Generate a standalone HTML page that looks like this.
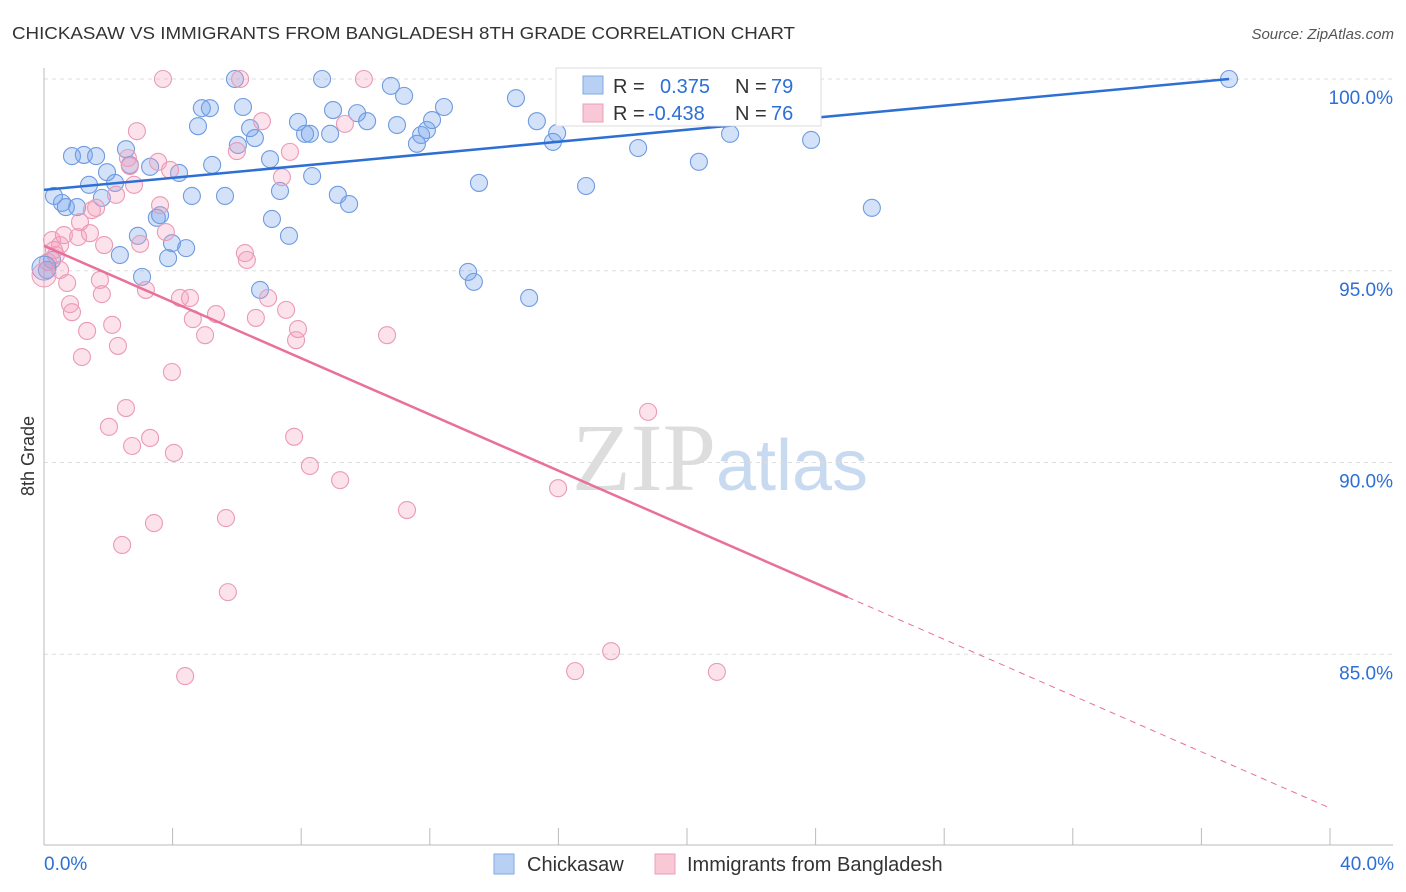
<!DOCTYPE html>
<html><head><meta charset="utf-8"><style>
body{margin:0;background:#fff;font-family:"Liberation Sans",sans-serif}
svg{display:block}
</style></head><body>
<svg id="c" width="1406" height="892">
<text x="12" y="39" font-size="17.5" fill="#333" textLength="783" lengthAdjust="spacingAndGlyphs">CHICKASAW VS IMMIGRANTS FROM BANGLADESH 8TH GRADE CORRELATION CHART</text>
<text x="1394" y="39" font-size="15" fill="#555" font-style="italic" text-anchor="end">Source: ZipAtlas.com</text>
<text x="720" y="490" font-size="96" fill="#ddd" text-anchor="middle" font-family="Liberation Serif">ZIP<tspan fill="#c8daf0" font-family="Liberation Sans" font-size="72">atlas</tspan></text>
<text x="34" y="456" font-size="18" fill="#333" text-anchor="middle" transform="rotate(-90 34 456)">8th Grade</text>
<g id="grid"></g><g id="pts"></g><g id="lines"></g>
<g>
<rect x="556" y="68" width="265" height="58" fill="#fff" stroke="#ddd"/>
<rect x="583" y="76" width="20" height="18" fill="#b8d0f4" stroke="#7fa8e0"/>
<rect x="583" y="104" width="20" height="18" fill="#f8c8d6" stroke="#eaa0b8"/>
<text y="93" font-size="20" fill="#333"><tspan x="613">R =</tspan><tspan x="660" fill="#2d6fd4">0.375</tspan><tspan x="735">N =</tspan><tspan x="771" fill="#2d6fd4">79</tspan></text>
<text y="120" font-size="20" fill="#333"><tspan x="613">R =</tspan><tspan x="648" fill="#2d6fd4">-0.438</tspan><tspan x="735">N =</tspan><tspan x="771" fill="#2d6fd4">76</tspan></text>
</g>
<g>
<rect x="494" y="854" width="20" height="20" fill="#b8d0f4" stroke="#7fa8e0"/>
<text x="527" y="871" font-size="20" fill="#333">Chickasaw</text>
<rect x="655" y="854" width="20" height="20" fill="#f8c8d6" stroke="#eaa0b8"/>
<text x="687" y="871" font-size="20" fill="#333">Immigrants from Bangladesh</text>
</g>
<text x="44" y="870" font-size="19" fill="#2d6fd4">0.0%</text>
<text x="1394" y="870" font-size="19" fill="#2d6fd4" text-anchor="end">40.0%</text>
</svg>
<script>
const blueX=[0.31,0.56,0.68,0.87,1.03,1.24,1.40,1.62,1.80,1.96,2.21,2.36,2.55,2.67,2.92,3.05,3.30,3.51,3.61,3.86,3.98,4.20,4.42,4.60,4.79,4.91,5.16,5.23,5.63,5.94,6.03,6.19,6.41,6.56,6.72,7.03,7.09,7.34,7.62,7.90,8.12,8.27,8.34,8.65,8.90,8.99,9.14,9.49,9.74,10.05,10.79,10.98,11.20,11.60,11.73,11.91,12.07,12.44,13.19,13.37,13.53,14.68,15.09,15.33,15.83,15.96,16.52,16.86,18.35,18.48,20.37,21.34,21.90,23.86,25.75,36.86,0.09,0.25];
const blueY=[96.95,96.77,96.66,97.99,96.66,98.02,97.24,97.99,96.90,97.57,97.29,95.41,98.17,97.76,95.91,94.84,97.71,96.38,96.45,95.33,95.72,97.55,95.59,96.95,98.77,99.24,99.24,97.76,96.95,100,98.28,99.27,98.72,98.46,94.50,97.91,96.35,97.08,95.91,98.88,98.57,98.57,97.47,100,98.57,99.19,96.98,96.74,99.11,98.90,99.82,98.80,99.56,98.31,98.54,98.67,98.93,99.27,94.97,94.71,97.29,99.50,94.29,98.90,98.36,98.59,100,97.21,100,98.20,97.84,98.57,100,98.41,96.64,100,95.02,95.28];
const pinkX=[0.25,0.37,0.50,0.62,0.72,0.81,0.87,1.06,1.12,1.18,1.34,1.43,1.49,1.62,1.74,1.80,1.87,2.02,2.12,2.24,2.30,2.43,2.55,2.61,2.67,2.74,2.80,2.89,2.99,3.17,3.30,3.42,3.55,3.61,3.70,3.79,3.92,3.98,4.04,4.23,4.39,4.54,4.63,5.01,5.35,5.66,5.72,6.00,6.10,6.25,6.31,6.59,6.78,6.97,7.40,7.53,7.65,7.78,7.84,7.90,8.27,9.21,9.36,9.95,10.67,11.29,15.99,16.52,17.64,18.79,20.93,0.12,0.31,0.50];
const pinkY=[95.80,95.41,95.67,95.93,94.68,94.13,93.92,95.88,96.27,92.75,93.43,95.98,96.58,96.64,94.76,94.39,95.67,90.93,93.59,96.98,93.04,87.85,91.42,97.94,97.73,90.43,97.24,98.64,95.70,94.50,90.64,88.42,97.84,96.71,100,96.01,97.63,92.36,90.25,94.29,84.43,94.29,93.74,93.32,93.87,88.55,86.62,98.12,100,95.46,95.28,93.77,98.90,94.29,97.44,93.98,98.10,90.67,93.19,93.48,89.91,89.54,98.83,100,93.32,88.76,89.33,84.56,85.08,91.32,84.54,95.23,95.54,95.02];
const bigBlue=[0,95.07], bigPink=[0,94.89];
const blueFit=[97.11,0.0784], pinkFit=[95.65,-0.3665];
const yTicks=[100,95,90,85];
const xTicks=[0,4,8,12,16,20,24,28,32,36,40];
const NS='http://www.w3.org/2000/svg';
const sx=v=>44+v*32.15, sy=v=>79+(100-v)*38.35;
function mk(p,t,a){const e=document.createElementNS(NS,t);for(const k in a)e.setAttribute(k,a[k]);p.appendChild(e);return e;}
const grid=document.getElementById('grid'),pts=document.getElementById('pts'),lines=document.getElementById('lines');
yTicks.forEach(t=>{
 const l=mk(grid,'line',{x1:44,x2:1393,y1:sy(t),y2:sy(t),stroke:'#ddd','stroke-dasharray':'4 4'});
 
 
 const tx=mk(grid,'text',{x:1393,y:sy(t)+25,'font-size':19,fill:'#2d6fd4','text-anchor':'end'});
 tx.textContent=t.toFixed(1)+'%';
 
 
});
mk(grid,'line',{x1:44,x2:44,y1:68,y2:845,stroke:'#bbb'});
mk(grid,'line',{x1:44,x2:1393,y1:845,y2:845,stroke:'#bbb'});
xTicks.forEach(t=>{
 const l=mk(grid,'line',{x1:sx(t),x2:sx(t),y1:828,y2:845,stroke:'#bbb'});
 
 
});
function dots(X,Y,fill,stroke,name){X.forEach((x,i)=>{
 const c=mk(pts,'circle',{cx:sx(x),cy:sy(Y[i]),r:8.5,fill:fill,stroke:stroke,'stroke-width':1.1});
 
 
});}
dots(blueX,blueY,'rgba(110,160,235,0.3)','#6f9be0','chickasaw-point');
dots(pinkX,pinkY,'rgba(245,160,190,0.3)','#eb9ab5','bangladesh-point');
let b=mk(pts,'circle',{cx:sx(bigBlue[0]),cy:sy(bigBlue[1]),r:12,fill:'rgba(110,160,235,0.3)',stroke:'#6f9be0'});


b=mk(pts,'circle',{cx:sx(bigPink[0]),cy:sy(bigPink[1]),r:12,fill:'rgba(245,160,190,0.3)',stroke:'#eb9ab5'});


let l=mk(lines,'line',{x1:sx(0),y1:sy(blueFit[0]),x2:sx(36.86),y2:sy(blueFit[0]+blueFit[1]*36.86),stroke:'#2d6fd4','stroke-width':2.5});


l=mk(lines,'line',{x1:sx(0),y1:sy(pinkFit[0]),x2:sx(25),y2:sy(pinkFit[0]+pinkFit[1]*25),stroke:'#e8709a','stroke-width':2.5});


l=mk(lines,'line',{x1:sx(25),y1:sy(pinkFit[0]+pinkFit[1]*25),x2:sx(40),y2:sy(pinkFit[0]+pinkFit[1]*40),stroke:'#e8709a','stroke-width':1,'stroke-dasharray':'6 5'});


</script>
</body></html>
